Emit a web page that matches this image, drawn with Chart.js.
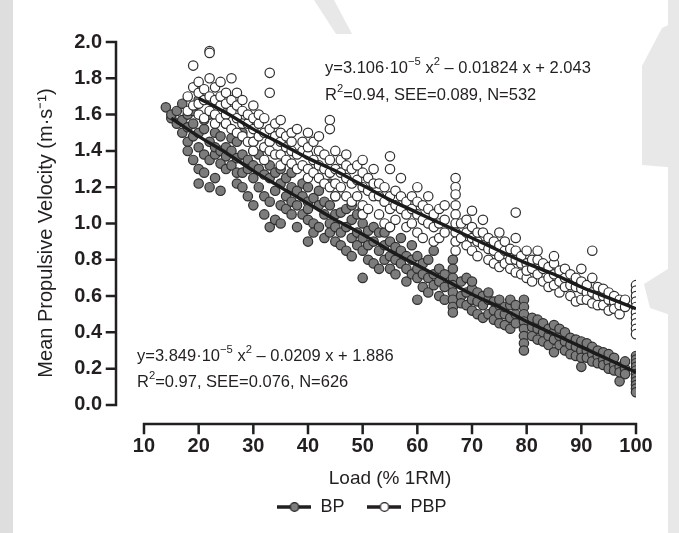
<!DOCTYPE html>
<html>
<head>
<meta charset="utf-8">
<script src="https://cdn.jsdelivr.net/npm/chart.js@4.4.1/dist/chart.umd.min.js"></script>
<style>
  html, body { margin: 0; padding: 0; background: #fff; }
  #wrap { width: 679px; height: 533px; }
</style>
</head>
<body>
<div id="wrap"><canvas id="chart" width="679" height="533"></canvas></div>
<script>
// loads (% 1RM) and mean propulsive velocity (m/s)
const bpPoints = [
  [14,1.64],[15,1.58],[15,1.60],[16,1.55],[16,1.62],[17,1.66],[17,1.50],[17,1.57],
  [18,1.45],[18,1.60],[18,1.40],[18,1.53],[19,1.55],[19,1.48],[19,1.35],[19,1.62],
  [20,1.68],[20,1.42],[20,1.22],[20,1.50],[20,1.30],[21,1.52],[21,1.38],[21,1.28],[21,1.57],
  [22,1.45],[22,1.60],[22,1.20],[22,1.35],[23,1.50],[23,1.38],[23,1.25],[23,1.42],
  [24,1.33],[24,1.48],[24,1.18],[24,1.40],[25,1.55],[25,1.42],[25,1.30],[25,1.37],
  [26,1.40],[26,1.32],[26,1.47],[27,1.22],[27,1.45],[27,1.36],[27,1.28],
  [28,1.28],[28,1.50],[28,1.20],[28,1.38],[29,1.35],[29,1.15],[29,1.30],
  [30,1.25],[30,1.40],[30,1.10],[30,1.32],[30,1.45],[31,1.20],[31,1.30],[31,1.38],
  [32,1.15],[32,1.27],[32,1.05],[33,0.98],[33,1.25],[33,1.32],[33,1.12],
  [34,1.18],[34,1.28],[34,1.02],[35,1.22],[35,1.10],[35,1.30],[35,1.00],
  [36,1.15],[36,1.25],[36,1.08],[37,1.20],[37,1.05],[37,1.12],[37,1.28],
  [38,1.10],[38,0.98],[38,1.18],[39,1.15],[39,1.05],[39,1.22],
  [40,0.90],[40,1.12],[40,1.20],[40,1.02],[40,1.08],[41,1.00],[41,1.14],[41,0.95],
  [42,1.10],[42,0.98],[42,1.18],[43,1.05],[43,0.92],[43,1.12],
  [44,1.00],[44,1.10],[44,0.95],[44,1.22],[45,1.05],[45,0.90],[45,0.98],[45,1.15],
  [46,0.95],[46,1.06],[46,0.88],[47,0.98],[47,1.08],[47,0.85],
  [48,0.92],[48,1.02],[48,0.82],[48,1.10],[49,0.95],[49,0.88],[49,1.05],
  [50,0.70],[50,0.92],[50,1.00],[50,0.85],[50,1.08],[51,0.88],[51,0.96],[51,0.80],
  [52,0.90],[52,0.78],[52,0.98],[53,0.85],[53,0.95],[53,0.75],
  [54,0.88],[54,0.80],[54,0.95],[55,0.82],[55,0.90],[55,0.75],[55,0.98],
  [56,0.80],[56,0.87],[56,0.72],[57,0.78],[57,0.85],[57,0.92],
  [58,0.75],[58,0.82],[58,0.68],[59,0.80],[59,0.72],[59,0.88],
  [60,0.58],[60,0.75],[60,0.82],[60,0.70],[61,0.72],[61,0.78],[61,0.65],
  [62,0.70],[62,0.80],[62,0.62],[63,0.72],[63,0.66],[63,0.85],
  [64,0.68],[64,0.75],[64,0.60],[65,0.65],[65,0.72],[65,0.58],
  [66.5,0.80],[66.5,0.75],[66.5,0.70],[66.5,0.66],[66.5,0.62],[66.5,0.58],[66.5,0.54],[66.5,0.51],
  [68,0.60],[68,0.68],[68,0.56],[69,0.62],[69,0.55],[69,0.70],
  [70,0.58],[70,0.64],[70,0.52],[70,0.68],[71,0.57],[71,0.62],[71,0.50],
  [72,0.55],[72,0.60],[72,0.48],[73,0.58],[73,0.50],[73,0.62],
  [74,0.52],[74,0.57],[74,0.47],[75,0.55],[75,0.50],[75,0.58],[75,0.45],
  [76,0.50],[76,0.54],[76,0.44],[77,0.48],[77,0.55],[77,0.42],[77,0.58],
  [78,0.50],[78,0.45],[78,0.55],
  [79.5,0.58],[79.5,0.54],[79.5,0.50],[79.5,0.46],[79.5,0.42],[79.5,0.38],[79.5,0.34],[79.5,0.30],
  [81,0.43],[81,0.48],[81,0.38],[82,0.42],[82,0.36],[82,0.47],[83,0.40],[83,0.45],[83,0.35],
  [84,0.38],[84,0.42],[84,0.33],[85,0.29],[85,0.40],[85,0.36],[85,0.44],
  [86,0.38],[86,0.33],[86,0.42],[87,0.35],[87,0.30],[87,0.40],[88,0.33],[88,0.37],[88,0.28],
  [89,0.32],[89,0.36],[89,0.27],[90,0.21],[90,0.30],[90,0.35],[90,0.26],
  [91,0.30],[91,0.26],[91,0.34],[92,0.28],[92,0.24],[92,0.32],[93,0.27],[93,0.23],[93,0.30],
  [94,0.25],[94,0.22],[94,0.29],[95,0.24],[95,0.20],[95,0.28],[96,0.22],[96,0.19],[96,0.26],
  [97,0.13],[97,0.21],[97,0.18],[98,0.20],[98,0.17],[98,0.24],
  [100,0.27],[100,0.25],[100,0.23],[100,0.21],[100,0.19],[100,0.17],[100,0.15],[100,0.13],
  [100,0.11],[100,0.09],[100,0.07]
];

const pbpPoints = [
  [18,1.62],[18,1.70],[19,1.87],[19,1.65],[19,1.75],[20,1.72],[20,1.60],[20,1.78],[20,1.66],
  [21,1.68],[21,1.58],[21,1.74],[22,1.95],[22,1.94],[22,1.62],[22,1.70],[22,1.80],
  [23,1.75],[23,1.60],[23,1.68],[23,1.55],[24,1.78],[24,1.65],[24,1.58],[24,1.70],
  [25,1.60],[25,1.72],[25,1.55],[25,1.66],[26,1.80],[26,1.62],[26,1.52],[26,1.68],
  [27,1.58],[27,1.65],[27,1.50],[27,1.72],[28,1.62],[28,1.55],[28,1.48],[28,1.68],
  [29,1.55],[29,1.60],[29,1.45],[30,1.65],[30,1.52],[30,1.58],[30,1.45],[30,1.40],
  [31,1.55],[31,1.48],[31,1.60],[32,1.50],[32,1.42],[32,1.58],[32,1.35],
  [33,1.83],[33,1.72],[33,1.52],[33,1.45],[33,1.40],[34,1.48],[34,1.55],[34,1.38],
  [35,1.57],[35,1.45],[35,1.38],[35,1.50],[35,1.32],[36,1.42],[36,1.48],[36,1.35],
  [37,1.40],[37,1.50],[37,1.33],[37,1.45],[38,1.52],[38,1.38],[38,1.30],
  [39,1.40],[39,1.45],[39,1.32],[40,1.50],[40,1.38],[40,1.30],[40,1.25],[40,1.42],
  [41,1.35],[41,1.45],[41,1.28],[42,1.32],[42,1.40],[42,1.25],[42,1.48],
  [43,1.30],[43,1.38],[43,1.22],[44,1.57],[44,1.52],[44,1.35],[44,1.28],[44,1.20],
  [45,1.30],[45,1.40],[45,1.22],[45,1.15],[46,1.28],[46,1.35],[46,1.20],
  [47,1.25],[47,1.32],[47,1.15],[47,1.38],[48,1.22],[48,1.30],[48,1.12],
  [49,1.24],[49,1.15],[49,1.32],[50,1.20],[50,1.28],[50,1.10],[50,1.05],[50,1.35],
  [51,1.18],[51,1.25],[51,1.08],[52,1.15],[52,1.22],[52,1.30],[53,1.15],[53,1.05],[53,1.22],
  [54,1.12],[54,1.20],[54,1.00],[55,1.37],[55,1.30],[55,1.15],[55,1.08],[55,0.98],
  [56,1.10],[56,1.18],[56,1.02],[57,1.08],[57,1.15],[57,1.25],[58,1.05],[58,1.12],[58,0.98],
  [59,1.08],[59,1.00],[59,1.15],[60,1.05],[60,1.12],[60,0.95],[60,1.20],
  [61,1.02],[61,1.10],[61,0.92],[62,1.00],[62,1.08],[62,1.15],[63,0.98],[63,1.05],[63,0.90],
  [64,1.00],[64,0.92],[64,1.08],[65,0.95],[65,1.02],[65,1.10],
  [67,1.25],[67,1.20],[67,1.16],[67,1.10],[67,1.05],[67,1.00],[67,0.95],[67,0.90],[67,0.85],
  [68,0.92],[68,1.00],[69,0.95],[69,0.88],[69,1.02],[70,1.07],[70,0.92],[70,0.85],[70,0.98],
  [71,0.90],[71,0.95],[71,0.82],[72,0.88],[72,0.95],[72,1.02],[73,0.86],[73,0.80],[73,0.92],
  [74,0.85],[74,0.90],[74,0.78],[75,0.82],[75,0.88],[75,0.95],[75,0.76],
  [76,0.85],[76,0.78],[76,0.90],[77,0.80],[77,0.86],[77,0.75],
  [78,1.06],[78,0.80],[78,0.85],[78,0.73],[78,0.92],[79,0.78],[79,0.82],[79,0.72],
  [80,0.78],[80,0.85],[80,0.70],[80,0.74],[81,0.75],[81,0.80],[81,0.68],
  [82,0.72],[82,0.80],[82,0.85],[83,0.75],[83,0.68],[83,0.78],[84,0.70],[84,0.76],[84,0.65],
  [85,0.72],[85,0.78],[85,0.66],[85,0.82],[86,0.68],[86,0.74],[86,0.62],
  [87,0.70],[87,0.65],[87,0.75],[88,0.66],[88,0.72],[88,0.60],[89,0.65],[89,0.70],[89,0.57],
  [90,0.64],[90,0.68],[90,0.58],[90,0.75],[91,0.62],[91,0.66],[91,0.58],
  [92,0.85],[92,0.62],[92,0.70],[92,0.56],[93,0.60],[93,0.65],[93,0.55],
  [94,0.60],[94,0.55],[94,0.64],[95,0.58],[95,0.62],[95,0.52],[96,0.57],[96,0.60],[96,0.53],
  [97,0.50],[97,0.58],[97,0.55],[98,0.54],[98,0.58],
  [100,0.66],[100,0.63],[100,0.60],[100,0.57],[100,0.54],[100,0.51],[100,0.48],[100,0.45],
  [100,0.42],[100,0.39]
];

// regression curves, read at every 5 % 1RM
const bpFitLoad = [15,20,25,30,35,40,45,50,55,60,65,70,75,80,85,90,95,100];
const bpFitVel = [1.58,1.48,1.39,1.29,1.20,1.11,1.02,0.94,0.85,0.77,0.69,0.61,0.54,0.46,0.39,0.32,0.25,0.18];
const pbpFitLoad = [20,25,30,35,40,45,50,55,60,65,70,75,80,85,90,95,100];
const pbpFitVel = [1.69,1.61,1.52,1.44,1.36,1.29,1.21,1.13,1.06,0.99,0.92,0.85,0.78,0.72,0.65,0.59,0.53];

const xTicks = [10,20,30,40,50,60,70,80,90,100];
const yTicks = [0,0.2,0.4,0.6,0.8,1.0,1.2,1.4,1.6,1.8,2.0];

const ink = '#231f20';
const fontFamily = '"Liberation Sans", Arial, sans-serif';

function toXY(pairs) {
  return pairs.map(p => ({ x: p[0], y: p[1] }));
}
function zipXY(xs, ys) {
  return xs.map((x, i) => ({ x, y: ys[i] }));
}

function legendMarker(fill) {
  const c = document.createElement('canvas');
  c.width = 34;
  c.height = 12;
  const g = c.getContext('2d');
  g.strokeStyle = ink;
  g.lineWidth = 3.5;
  g.beginPath();
  g.moveTo(0, 6);
  g.lineTo(34, 6);
  g.stroke();
  g.beginPath();
  g.arc(17, 6, 4.3, 0, Math.PI * 2);
  g.fillStyle = fill;
  g.fill();
  g.lineWidth = 1.3;
  g.stroke();
  return c;
}

// light grey page edges behind the figure
const pageBackdrop = {
  id: 'pageBackdrop',
  beforeDraw(chart) {
    const ctx = chart.ctx;
    ctx.save();
    ctx.fillStyle = '#fff';
    ctx.fillRect(0, 0, chart.width, chart.height);
    ctx.fillStyle = '#dedede';
    ctx.fillRect(0, 0, 13, chart.height);
    ctx.fillStyle = '#e8e8e8';
    ctx.fillRect(668, 0, 11, chart.height);
    ctx.beginPath();
    ctx.moveTo(314, 0);
    ctx.lineTo(334, 0);
    ctx.lineTo(352, 34);
    ctx.lineTo(336, 34);
    ctx.closePath();
    ctx.fill();
    ctx.beginPath();
    ctx.moveTo(679, 20);
    ctx.lineTo(662, 28);
    ctx.lineTo(642, 66);
    ctx.lineTo(642, 165);
    ctx.lineTo(679, 168);
    ctx.closePath();
    ctx.fill();
    ctx.beginPath();
    ctx.moveTo(679, 262);
    ctx.lineTo(644, 284);
    ctx.lineTo(650, 308);
    ctx.lineTo(679, 318);
    ctx.closePath();
    ctx.fill();
    ctx.restore();
  }
};

// detached axis lines with outward ticks, drawn at the plot edges
const detachedAxes = {
  id: 'detachedAxes',
  beforeDatasetsDraw(chart) {
    const { ctx, chartArea, scales } = chart;
    const ax = chartArea.left;
    const ay = chartArea.bottom;
    ctx.save();
    ctx.strokeStyle = ink;
    ctx.lineWidth = 2.5;
    ctx.lineCap = 'square';
    ctx.beginPath();
    ctx.moveTo(ax, scales.y.getPixelForValue(2));
    ctx.lineTo(ax, scales.y.getPixelForValue(0));
    yTicks.forEach(v => {
      const py = scales.y.getPixelForValue(v);
      ctx.moveTo(ax - 9, py);
      ctx.lineTo(ax, py);
    });
    ctx.moveTo(scales.x.getPixelForValue(10), ay);
    ctx.lineTo(scales.x.getPixelForValue(100), ay);
    xTicks.forEach(v => {
      const px = scales.x.getPixelForValue(v);
      ctx.moveTo(px, ay);
      ctx.lineTo(px, ay + 9);
    });
    ctx.stroke();
    // x title centred under the drawn axis (10..100)
    ctx.fillStyle = ink;
    ctx.font = '19px ' + fontFamily;
    ctx.textAlign = 'center';
    ctx.textBaseline = 'middle';
    ctx.fillText('Load (% 1RM)', scales.x.getPixelForValue(55), ay + 55);
    ctx.restore();
  }
};

// the legend sits a little right of the page centre
const legendNudge = {
  id: 'legendNudge',
  afterLayout(chart) {
    chart.legend.left += 44;
  }
};

// regression equations with superscripts
function drawRich(ctx, parts, x, y, size) {
  let cx = x;
  parts.forEach(p => {
    const sup = p[1] === 'sup';
    ctx.font = (sup ? size * 0.68 : size) + 'px ' + fontFamily;
    ctx.fillText(p[0], cx, sup ? y - size * 0.38 : y);
    cx += ctx.measureText(p[0]).width;
  });
}

const equations = {
  id: 'equations',
  afterDraw(chart) {
    const ctx = chart.ctx;
    ctx.save();
    ctx.fillStyle = ink;
    ctx.textBaseline = 'middle';
    const s = 16.5;
    drawRich(ctx, [['y=3.106·10'], ['−5', 'sup'], [' x'], ['2', 'sup'], [' – 0.01824 x + 2.043']], 325, 68, s);
    drawRich(ctx, [['R'], ['2', 'sup'], ['=0.94, SEE=0.089, N=532']], 325, 95, s);
    drawRich(ctx, [['y=3.849·10'], ['−5', 'sup'], [' x'], ['2', 'sup'], [' – 0.0209 x + 1.886']], 137, 356, s);
    drawRich(ctx, [['R'], ['2', 'sup'], ['=0.97, SEE=0.076, N=626']], 137, 382, s);
    ctx.restore();
  }
};

new Chart(document.getElementById('chart'), {
  type: 'scatter',
  data: {
    datasets: [
      {
        type: 'line',
        label: 'PBP fit',
        data: zipXY(pbpFitLoad, pbpFitVel),
        borderColor: '#1b1b1b',
        borderWidth: 3.4,
        pointRadius: 0,
        cubicInterpolationMode: 'monotone',
        fill: false
      },
      {
        type: 'line',
        label: 'BP fit',
        data: zipXY(bpFitLoad, bpFitVel),
        borderColor: '#1b1b1b',
        borderWidth: 3.4,
        pointRadius: 0,
        cubicInterpolationMode: 'monotone',
        fill: false
      },
      {
        label: 'PBP',
        data: toXY(pbpPoints),
        backgroundColor: '#ffffff',
        borderColor: '#2e2e2e',
        borderWidth: 1.2,
        pointRadius: 4.7
      },
      {
        label: 'BP',
        data: toXY(bpPoints),
        backgroundColor: '#7c7c7c',
        borderColor: '#2e2e2e',
        borderWidth: 1.2,
        pointRadius: 4.7
      }
    ]
  },
  options: {
    responsive: false,
    animation: false,
    devicePixelRatio: 1,
    layout: { padding: { left: 44, top: 42, right: 43, bottom: 7 } },
    scales: {
      x: {
        type: 'linear',
        min: 4.88,
        max: 100,
        afterFit(scale) { scale.height = 51; },
        afterBuildTicks(scale) { scale.ticks = xTicks.map(v => ({ value: v })); },
        grid: { display: false, drawTicks: false },
        border: { display: false },
        ticks: {
          padding: 10.5,
          color: ink,
          font: { family: fontFamily, size: 20, weight: 'bold' }
        },
        title: { display: false }
      },
      y: {
        type: 'linear',
        min: -0.105,
        max: 2,
        afterFit(scale) { scale.width = 72; },
        afterBuildTicks(scale) { scale.ticks = yTicks.map(v => ({ value: v })); },
        grid: { display: false, drawTicks: false },
        border: { display: false },
        ticks: {
          padding: 14,
          color: ink,
          font: { family: fontFamily, size: 20, weight: 'bold' },
          callback: v => v.toFixed(1)
        },
        title: {
          display: true,
          text: 'Mean Propulsive Velocity (m·s⁻¹)',
          color: ink,
          padding: { top: -10, bottom: 0 },
          font: { family: fontFamily, size: 20 }
        }
      }
    },
    plugins: {
      tooltip: { enabled: false },
      legend: {
        position: 'bottom',
        labels: {
          usePointStyle: true,
          pointStyleWidth: 34,
          padding: 23,
          color: ink,
          font: { family: fontFamily, size: 18 },
          generateLabels() {
            return [
              { text: 'BP', pointStyle: legendMarker('#7c7c7c'), fontColor: ink, datasetIndex: 3 },
              { text: 'PBP', pointStyle: legendMarker('#ffffff'), fontColor: ink, datasetIndex: 2 }
            ];
          }
        }
      }
    }
  },
  plugins: [pageBackdrop, detachedAxes, legendNudge, equations]
});
</script>
</body>
</html>
